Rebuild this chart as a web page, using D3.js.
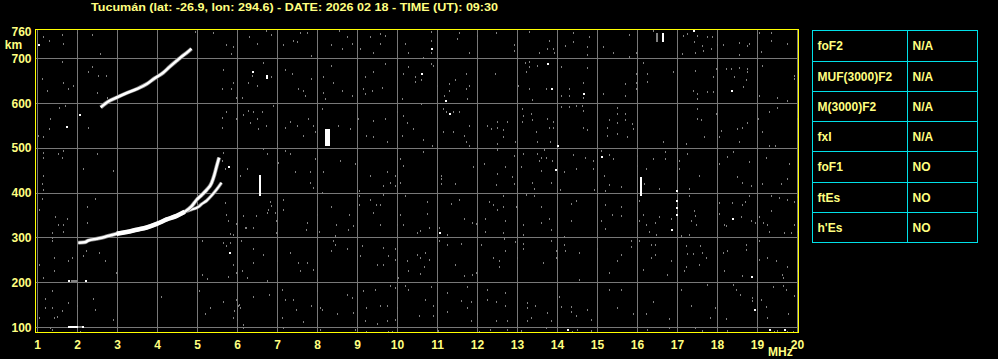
<!DOCTYPE html>
<html><head><meta charset="utf-8">
<script src="https://cdn.jsdelivr.net/npm/d3@7"></script>
<style>html,body{margin:0;padding:0;background:#000;}svg{display:block;}</style>
</head><body><svg id="c" width="998" height="359"></svg>
<script>
// ---------------- DATA ----------------
const titleText = "Tucumán (lat: -26.9, lon: 294.6) - DATE: 2026 02 18 - TIME (UT): 09:30";
const freqTicks = [1,2,3,4,5,6,7,8,9,10,11,12,13,14,15,16,17,18,19,20];
const heightGrid = [100,200,300,400,500,600,700];
const heightLabels = [100,200,300,400,500,600,700,760];
const freqUnit = "MHz";
const heightUnit = "km";
const paramNames = ["foF2","MUF(3000)F2","M(3000)F2","fxI","foF1","ftEs","h'Es"];
const paramValues = ["N/A","N/A","N/A","N/A","NO","NO","NO"];

// F-layer traces [MHz, km]
const traceO = [[2.02,289],[2.18,290],[2.27,294],[2.48,298],[2.68,302],[2.98,309],[3.23,313],[3.48,318],[3.73,323],[3.98,331],[4.23,341],[4.48,349],[4.68,358],[4.85,370],[4.98,385],[5.1,395],[5.23,407],[5.35,422],[5.42,440],[5.48,460],[5.54,479]];
const traceX = [[4.72,359],[4.85,363],[5.02,369],[5.1,375],[5.23,383],[5.35,394],[5.48,408],[5.6,423]];
const traceHop2 = [[2.58,591],[2.77,604],[2.98,613],[3.23,623],[3.48,632],[3.73,643],[3.93,656],[4.14,668],[4.31,682],[4.48,695],[4.6,704],[4.72,712],[4.85,722]];

// echo blocks [f0, f1, h0, h1]
const whiteBlocks = [[1.77,2.02,99,104],[2.12,2.18,99,104],[1.77,1.83,201,205],[2.18,2.22,201,205],[8.18,8.31,505,542],[6.53,6.57,393,440],[16.07,16.12,393,435],[16.62,16.67,737,756]];
const grayBlocks = [[2.02,2.12,99,104],[1.83,1.97,201,205],[16.46,16.51,737,757]];

// isolated echoes [MHz, km]
const whiteDots = [[6.35,670],[6.7,661],[6.7,657],[2.04,574],[1.7,548],[5.77,457],[1.0,731],[10.84,722],[17.39,762],[10.59,665],[11.18,606],[13.74,687],[13.84,633],[14.64,620],[18.34,628],[11.28,576],[13.99,505],[13.93,452],[15.09,480],[5.79,266],[16.95,404],[11.03,311],[16.84,318],[16.95,367],[16.95,352],[16.95,383],[18.37,341],[18.83,212],[18.9,138],[14.24,95],[19.28,95],[19.66,95]];

const grayDots = [
[1.14,747],[1.29,739],[1.6,752],[1.64,732],[1.99,757],[2.35,752],[2.56,710],[4.93,759],[5.39,756],[5.7,730],[5.85,710],[5.89,725],[6.29,749],[6.48,732],[6.72,762],[6.85,752],[7.14,730],[7.39,739],[7.48,736],[7.56,756],[7.73,756],[7.85,706],[8.33,730],[8.54,762],[8.73,749],[8.6,721],[8.85,732],[9.06,721],[9.31,749],[9.39,713],[9.56,732],[9.68,751],[10.18,732],[10.27,712],[9.56,754],
[1.1,655],[1.23,628],[1.6,693],[1.64,646],[1.77,632],[1.89,639],[2.27,669],[2.35,680],[2.52,661],[2.49,624],[2.72,661],[2.74,613],[5.64,675],[5.85,632],[5.89,646],[5.6,632],[5.97,613],[6.1,611],[6.27,646],[6.35,661],[6.48,639],[6.64,691],[6.85,658],[7.18,675],[7.35,665],[7.52,632],[7.64,628],[7.68,617],[7.85,654],[8.14,658],[8.14,624],[8.18,609],[8.35,684],[8.39,646],[8.6,628],[8.85,617],[9.18,658],[9.14,632],[9.18,620],[9.35,628],[9.39,669],[9.6,635],[9.68,687],[10.1,609],[10.14,665],[10.27,680],[10.43,658],[10.45,648],
[1.02,528],[1.31,565],[1.29,542],[1.54,589],[1.68,594],[2.27,546],[1.14,524],[5.6,568],[5.72,580],[5.6,546],[5.97,564],[6.14,575],[6.27,582],[6.39,580],[6.48,564],[6.31,557],[6.52,542],[6.72,550],[6.6,580],[6.89,594],[7.18,544],[7.31,559],[7.48,550],[7.64,527],[7.77,565],[7.89,550],[7.93,535],[8.1,587],[8.52,550],[8.81,542],[9.02,565],[9.22,527],[9.39,561],[9.39,524],[9.68,565],[9.73,513],[9.98,580],[10.1,527],[10.23,557],[10.39,542],[10.14,572],
[1.14,490],[1.14,479],[1.52,487],[1.6,479],[1.64,494],[2.14,453],[2.48,487],[2.89,449],[1.14,438],[5.64,490],[5.68,453],[5.6,472],[6.06,438],[6.23,453],[6.64,498],[6.73,487],[6.98,509],[7.02,468],[7.31,487],[7.44,446],[7.81,446],[7.93,476],[8.14,446],[8.56,472],[8.93,464],[9.31,438],[9.73,446],[10.06,476],[10.14,461],[9.93,438],[7.18,494],
[10.84,758],[10.84,740],[10.84,713],[10.64,702],[11,762],[11.48,743],[11.53,756],[11.78,712],[11.99,751],[12.45,756],[12.91,730],[12.91,717],[13.28,759],[13.53,712],[13.74,721],[13.78,739],[13.89,721],[13.91,712],[14.2,727],[14.39,756],[14.39,737],[14.74,725],[14.78,749],[14.74,707],[15.13,725],[15.39,712],[15.78,752],[15.95,712],[15.78,704],[16.39,762],[17.12,710],[17.14,751],[17.24,754],[17.4,736],[17.45,713],[17.49,751],[17.62,728],[17.64,717],[17.74,749],[17.87,747],[17.83,721],[17.98,730],[18.14,730],[18.53,734],[18.53,707],[18.74,727],[18.78,732],[19.03,756],[19.09,715],[19.33,756],[19.33,739],[19.74,732],
[10.59,652],[10.84,687],[10.89,684],[11,639],[11.16,617],[11.28,643],[11.28,628],[11.45,652],[11.7,665],[11.7,632],[11.74,609],[11.78,639],[12.43,665],[13,639],[12.98,606],[13.18,691],[13.28,693],[13.2,669],[13.28,680],[13.28,632],[13.37,608],[13.49,684],[13.7,633],[14.09,682],[14.09,617],[14.28,632],[14.28,617],[14.64,646],[14.64,613],[14.74,678],[15.14,620],[15.7,643],[15.7,617],[15.95,665],[15.95,646],[15.95,632],[16.14,691],[16.24,665],[16.24,648],[16.89,669],[17.39,628],[17.45,672],[17.49,620],[17.49,609],[17.74,626],[17.89,626],[17.89,658],[17.95,676],[18.2,676],[18.33,676],[18.41,658],[18.53,678],[18.64,637],[18.74,676],[18.74,669],[18.7,652],[19.03,617],[19.12,684],[19.49,611],[19.91,661],[19.91,654],[19.74,606],
[10.58,598],[11.14,587],[11.2,580],[11.39,581],[11.53,581],[11.14,536],[11.39,536],[10.64,519],[10.87,505],[11.66,528],[11.7,513],[11.78,550],[11.78,505],[12.24,550],[12.34,542],[12.49,559],[12.49,546],[12.64,541],[12.73,559],[12.64,524],[12.49,509],[12.94,514],[13.1,587],[13.13,571],[13.1,559],[13.33,576],[13.37,563],[13.45,536],[13.49,513],[13.74,566],[13.78,546],[13.89,559],[13.89,544],[13.81,514],[14.08,591],[14.28,591],[14.47,594],[14.62,594],[14.64,583],[14.64,544],[14.74,541],[15.24,544],[15.28,563],[15.23,528],[15.48,589],[15.48,576],[15.49,557],[15.49,531],[15.7,576],[15.7,563],[15.87,554],[15.89,542],[15.74,526],[16.64,514],[17.2,509],[17.49,587],[17.49,565],[17.59,563],[17.67,524],[17.95,576],[18.08,539],[18.04,526],[18.49,542],[18.53,513],[18.74,556],[18.62,546],[19,565],[19.12,536],[19.29,581],[19.49,589],[19.99,565],[19.29,505],[19.45,505],
[10.64,492],[11.09,438],[11.09,431],[11.89,457],[12.15,464],[12.49,442],[12.48,496],[12.7,457],[12.91,483],[12.87,435],[13.08,457],[13.13,487],[13.49,487],[13.58,479],[13.53,472],[13.59,449],[13.66,496],[13.7,479],[13.87,472],[14.16,447],[14.39,484],[14.45,454],[14.7,477],[14.89,472],[14.89,453],[15.08,494],[15.16,438],[15.28,484],[15.39,475],[15.99,483],[15.99,461],[16.2,453],[16.39,475],[16.68,492],[16.68,475],[17.03,472],[17.03,453],[17.24,487],[17.53,438],[18.03,464],[18.24,481],[18.39,492],[18.49,435],[18.78,470],[19.2,479],[19.78,464],[19.74,431],
[1.1,419],[1.14,407],[7.81,422],[7.89,411],[8.1,400],[9.04,404],[9.64,415],[9.81,422],[9.93,415],[10.06,422],
[1.1,387],[1.04,361],[1.35,311],[1.35,300],[1.43,346],[1.52,329],[1.64,329],[1.64,314],[1.74,343],[2.24,368],[2.24,333],[2.43,387],[5.68,378],[5.72,352],[5.77,337],[5.81,309],[5.89,307],[5.97,331],[6.14,348],[6.18,322],[6.2,322],[6.39,322],[6.46,348],[6.73,355],[6.81,381],[6.77,363],[6.85,370],[6.93,355],[6.96,337],[6.96,311],[7.14,363],[7.14,385],[7.74,333],[7.71,318],[7.98,352],[8.04,314],[8.35,368],[8.46,329],[8.43,303],[8.77,318],[8.79,352],[8.89,326],[9.04,393],[9.04,374],[9.31,385],[9.39,355],[9.46,374],[9.56,374],[9.56,329],[9.64,396],[9.98,329],[10.06,352],[10.18,393],[10.14,329],[10.48,311],
[1.04,240],[1.35,292],[1.41,255],[1.14,210],[1.41,227],[1.77,248],[1.87,256],[2.14,259],[2.22,270],[2.54,266],[2.68,248],[2.96,222],[5.1,292],[5.1,218],[5.24,209],[5.64,289],[5.72,281],[5.81,289],[5.89,240],[5.77,212],[5.96,222],[6.08,292],[6.1,225],[6.24,210],[6.39,274],[6.39,244],[6.64,262],[6.74,203],[6.98,248],[6.98,225],[7.31,266],[7.52,244],[7.56,227],[7.74,244],[7.89,229],[7.98,207],[8.35,270],[8.38,292],[8.43,285],[8.73,274],[9.06,259],[9.1,281],[9.48,240],[9.64,277],[9.64,240],[9.77,259],[9.93,274],[9.93,251],[10.02,210],[10.23,248],[10.27,225],[10.48,262],
[1.35,182],[1.18,164],[1.18,143],[1.35,143],[1.41,121],[1.48,123],[1.04,121],[1.62,136],[1.77,155],[1.98,147],[2.39,164],[2.43,140],[2.89,117],[1.31,99],[4.1,167],[5.04,182],[5.31,143],[5.18,130],[5.64,157],[5.91,136],[5.96,162],[6.02,147],[6.04,150],[6.06,143],[5.89,121],[6.14,106],[5.98,117],[6.39,167],[6.79,173],[7.1,184],[7.1,121],[7.18,162],[7.39,162],[7.46,140],[7.64,112],[7.85,147],[7.99,181],[8.06,143],[8.12,140],[8.49,130],[8.73,173],[8.85,166],[8.89,132],[9.14,181],[9.21,143],[9.18,114],[9.43,184],[9.56,147],[9.73,147],[9.81,192],[9.93,188],[9.98,143],[10.18,192],[10.27,184],[9.48,108],[9.73,115],[9.93,117],
[1.35,95],[2.06,91],[5.98,99],[6.14,99],[6.98,95],[7.14,99],[8.06,95],[8.93,95],[9.22,91],[9.77,90],[9.86,90],
[11.09,420],[11.45,420],[12.45,417],[12.91,420],[12.99,410],[13.41,410],[13.37,422],[13.83,422],[14.06,407],[14.91,407],[15.18,405],[15.28,417],[15.58,413],[16.16,420],[16.53,410],[17.28,410],[18.62,422],[18.83,415],[19.12,419],[19.58,419],
[10.74,381],[10.74,353],[10.56,316],[10.78,322],[11.03,322],[11.03,294],[11.24,307],[11.33,375],[11.53,385],[11.66,341],[11.87,333],[11.95,331],[12.2,343],[12.2,314],[12.28,381],[12.39,374],[12.49,363],[12.64,393],[12.64,368],[12.7,337],[12.64,311],[12.66,298],[12.95,368],[13.14,329],[13.14,307],[13.2,395],[13.41,393],[13.59,368],[13.59,333],[13.78,343],[13.83,318],[14.16,301],[14.34,375],[14.34,337],[14.45,383],[15.09,338],[15.18,373],[15.18,320],[15.37,352],[15.59,368],[15.59,348],[16.03,383],[16.03,337],[16.14,352],[16.2,329],[16.28,314],[16.43,333],[16.45,307],[16.53,346],[16.84,341],[17.08,303],[17.28,307],[17.28,393],[17.41,359],[17.45,348],[17.34,337],[17.47,329],[18.03,378],[18.03,353],[18.16,329],[18.22,326],[18.37,378],[18.58,346],[18.62,374],[18.68,381],[18.79,393],[18.83,337],[18.95,333],[19.03,346],[19.14,333],[19.24,329],[19.28,314],[19.33,359],[19.33,393],[19.53,389],[19.66,311],[19.74,385],[19.83,311],[19.91,381],[19.99,391],[19.99,314],[19.91,329],
[10.56,256],[10.68,266],[10.66,236],[10.78,251],[11.03,292],[10.56,219],[11.24,283],[11.45,239],[11.59,286],[11.66,214],[11.87,216],[11.95,222],[12.09,283],[12.39,255],[12.53,234],[12.53,248],[12.68,271],[12.93,291],[12.99,256],[13.14,286],[13.14,274],[13.64,244],[13.84,292],[13.95,270],[13.95,254],[14.16,283],[14.18,270],[14.53,266],[14.53,207],[14.99,274],[15.28,222],[15.48,248],[15.58,261],[15.83,292],[15.84,279],[16.03,292],[16.14,229],[16.33,285],[16.34,254],[16.43,262],[16.43,283],[16.74,218],[16.83,248],[17.16,225],[17.2,236],[17.2,281],[17.24,264],[17.39,264],[17.57,281],[17.62,266],[17.53,240],[17.7,256],[18.16,227],[18.14,266],[18.24,270],[18.62,214],[18.72,285],[18.72,272],[19.03,292],[19.03,251],[19.24,256],[19.47,248],[19.62,218],[19.73,234],[19.99,225],[19.64,210],
[10.84,190],[10.68,162],[10.89,147],[10.89,125],[11.24,177],[11.24,135],[10.53,125],[11.58,160],[11.74,190],[11.83,157],[11.74,143],[11.99,130],[11.83,115],[12.24,184],[12.24,162],[12.45,157],[12.7,177],[12.7,147],[12.45,114],[12.74,114],[13.24,155],[13.24,143],[13.43,149],[13.33,121],[13.24,114],[13.73,132],[13.83,114],[14.03,169],[14.09,145],[14.34,145],[14.34,135],[14.47,125],[14.74,140],[14.83,117],[15.28,184],[15.48,143],[15.59,184],[15.89,129],[16.2,130],[16.39,157],[16.78,120],[17.09,184],[17.34,147],[17.74,194],[17.8,121],[17.93,143],[18.2,120],[18.39,194],[18.45,184],[18.55,172],[18.87,166],[18.87,160],[18.98,190],[19.08,162],[19.24,121],[19.39,190],[19.64,192],[19.7,184],[19.76,129],[19.91,170],[19.2,145],
[11.01,93],[12.03,91],[12.31,95],[12.73,95],[13.08,93],[13.7,100],[14.37,90],[14.49,95],[14.83,93],[15.99,90],[16.24,95],[16.78,99],[17.45,99],[17.62,93],[18.24,93],[19.41,91],[19.48,93],[19.74,91],[19.89,90]
];

// ---------------- DRAWING ----------------
const svg = d3.select("#c");
const W = 998, H = 359;
const plot = {left:35.5, right:798.5, top:29.5, bottom:332.5};
const x = d3.scaleLinear().domain([1,20]).range([37.5,797.5]);
const y = d3.scaleLinear().domain([100,700]).range([327.5,58.5]);
const YEL = "#ffff00", TXT = "#ffff80", GRID = "#787878", NOISE = "#808080", CYAN = "#00e0e8";
const FONT = "'Liberation Sans', Arial, sans-serif";

svg.append("rect").attr("width",W).attr("height",H).attr("fill","#000");

// title
svg.append("text").attr("x",91).attr("y",10.5).text(titleText)
  .attr("fill",TXT).attr("font-family",FONT).attr("font-weight","bold").attr("font-size",11.5)
  .attr("textLength",407).attr("lengthAdjust","spacingAndGlyphs");

// grid
const g = svg.append("g").attr("shape-rendering","crispEdges");
g.selectAll("line.v").data(freqTicks).join("line")
  .attr("x1",d=>Math.floor(x(d))+0.5).attr("x2",d=>Math.floor(x(d))+0.5)
  .attr("y1",plot.top).attr("y2",plot.bottom).attr("stroke",GRID).attr("stroke-width",1);
g.selectAll("line.h").data(heightGrid).join("line")
  .attr("y1",d=>Math.floor(y(d))+0.5).attr("y2",d=>Math.floor(y(d))+0.5)
  .attr("x1",plot.left).attr("x2",plot.right).attr("stroke",GRID).attr("stroke-width",1);

// noise echoes
const nd = svg.append("g").attr("shape-rendering","crispEdges");
nd.selectAll("rect").data(grayDots).join("rect")
  .attr("x",d=>Math.round(x(d[0]))).attr("y",d=>Math.round(y(d[1]))-1)
  .attr("width",1).attr("height",2).attr("fill",NOISE);

nd.selectAll("rect.gb").data(grayBlocks).join("rect")
  .attr("x",d=>Math.round(x(d[0]))).attr("y",d=>Math.round(y(d[3])))
  .attr("width",d=>Math.max(1,Math.round(x(d[1])-x(d[0])))).attr("height",d=>Math.max(1,Math.round(y(d[2])-y(d[3]))))
  .attr("fill",NOISE);

// traces
const line = d3.line().x(d=>x(d[0])).y(d=>y(d[1])).curve(d3.curveMonotoneX);
const tr = svg.append("g");
function drawTrace(data, halo, core){
  tr.append("path").attr("d",line(data)).attr("fill","none").attr("stroke",NOISE)
    .attr("stroke-width",halo).attr("stroke-linecap","butt").attr("stroke-linejoin","round");
  tr.append("path").attr("d",line(data)).attr("fill","none").attr("stroke","#fff")
    .attr("stroke-width",core).attr("stroke-linecap","butt").attr("stroke-linejoin","round");
}
drawTrace(traceHop2, 4, 2.5);
drawTrace(traceX, 3.5, 2);
drawTrace(traceO, 4, 2.5);
// thicker core where the O trace is strongest
const thick = traceO.filter(d=>d[0]>=2.9 && d[0]<=4.7);
tr.append("path").attr("d",line(thick)).attr("fill","none").attr("stroke","#fff").attr("stroke-width",4.5);

// white blocks and dots
const wd = svg.append("g").attr("shape-rendering","crispEdges");
wd.selectAll("rect.wb").data(whiteBlocks).join("rect")
  .attr("x",d=>Math.round(x(d[0]))).attr("y",d=>Math.round(y(d[3])))
  .attr("width",d=>Math.max(1,Math.round(x(d[1])-x(d[0])))).attr("height",d=>Math.max(1,Math.round(y(d[2])-y(d[3]))))
  .attr("fill","#fff");
wd.selectAll("rect.wd").data(whiteDots).join("rect")
  .attr("x",d=>Math.round(x(d[0]))).attr("y",d=>Math.round(y(d[1]))-1)
  .attr("width",2).attr("height",2).attr("fill","#fff");

// plot border
svg.append("rect").attr("x",plot.left).attr("y",plot.top)
  .attr("width",plot.right-plot.left).attr("height",plot.bottom-plot.top)
  .attr("fill","none").attr("stroke",YEL).attr("stroke-width",1).attr("shape-rendering","crispEdges");

// axis labels
const lab = svg.append("g").attr("fill",TXT).attr("font-family",FONT).attr("font-weight","bold").attr("font-size",12);
lab.selectAll("text.y").data(heightLabels).join("text")
  .attr("x",31.5).attr("y",d=>y(d)+4.3).attr("text-anchor","end").text(d=>d);
lab.append("text").attr("x",13.5).attr("y",49).attr("text-anchor","middle").text(heightUnit);
lab.selectAll("text.x").data(freqTicks).join("text")
  .attr("x",d=>x(d)).attr("y",348.5).attr("text-anchor","middle").text(d=>d);
lab.append("text").attr("x",768).attr("y",356).text(freqUnit);

// parameter table
const tbl = {left:812.5, mid:907.5, right:977.5};
const rowEdges = [30.5,61.5,91.5,121.5,151.5,182.5,212.5,242.5];
const tg = svg.append("g");
tg.append("rect").attr("x",tbl.left).attr("y",rowEdges[0]).attr("width",tbl.right-tbl.left)
  .attr("height",rowEdges[rowEdges.length-1]-rowEdges[0]).attr("fill","none").attr("stroke",CYAN).attr("shape-rendering","crispEdges");
tg.append("line").attr("x1",tbl.mid).attr("x2",tbl.mid).attr("y1",rowEdges[0]).attr("y2",rowEdges[rowEdges.length-1])
  .attr("stroke",CYAN).attr("shape-rendering","crispEdges");
tg.selectAll("line.r").data(rowEdges.slice(1,-1)).join("line")
  .attr("x1",tbl.left).attr("x2",tbl.right).attr("y1",d=>d).attr("y2",d=>d)
  .attr("stroke",CYAN).attr("shape-rendering","crispEdges");
const tt = tg.append("g").attr("fill",TXT).attr("font-family",FONT).attr("font-weight","bold").attr("font-size",12);
tt.selectAll("text.n").data(paramNames).join("text")
  .attr("x",817.5).attr("y",(d,i)=>(rowEdges[i]+rowEdges[i+1])/2+4.3).text(d=>d);
tt.selectAll("text.v").data(paramValues).join("text")
  .attr("x",912.5).attr("y",(d,i)=>(rowEdges[i]+rowEdges[i+1])/2+4.3).text(d=>d);
</script></body></html>
